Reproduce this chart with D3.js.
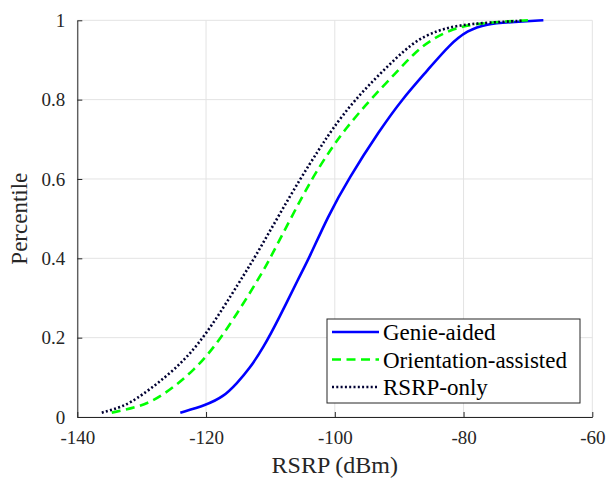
<!DOCTYPE html>
<html><head><meta charset="utf-8">
<script src="https://cdn.jsdelivr.net/npm/d3@7"></script>
<style>body{margin:0;background:#fff;} svg{display:block;} text{font-family:"Liberation Serif","Times New Roman",Times,"DejaVu Serif","Noto Serif",serif;}</style>
</head><body>
<svg id="c" width="609" height="479"></svg>
<script>
const xTicks = [-140, -120, -100, -80, -60];
const yTicks = [0, 0.2, 0.4, 0.6, 0.8, 1];
const yTickLabels = ["0", "0.2", "0.4", "0.6", "0.8", "1"];
const seriesNames = ["Genie-aided", "Orientation-assisted", "RSRP-only"];

const genieX = [-124.0, -120.0, -117.3, -115.2, -113.2, -111.1, -108.8, -105.5, -104.0, -101.1, -97.9, -93.0, -89.6, -85.7, -82.1, -79.4, -76.6, -72.0, -67.6];
const genieY = [0.011, 0.03, 0.051, 0.085, 0.123, 0.175, 0.2445, 0.354, 0.4, 0.505, 0.6, 0.7235, 0.8, 0.872, 0.94, 0.974, 0.991, 0.996, 1.0];

const orientX = [-134.65, -130.25, -126.9, -121.7, -117.5, -111.6, -110.05, -106.7, -103.6, -100.7, -98.5, -94.5, -90.6, -87.8, -85.2, -81.5, -78.5, -74.0, -70.0];
const orientY = [0.011, 0.026, 0.051, 0.1185, 0.2, 0.354, 0.4, 0.505, 0.6, 0.673, 0.7235, 0.8, 0.866, 0.915, 0.95, 0.98, 0.99, 0.997, 1.0];

const rsrpX = [-136.2, -132.85, -130.25, -124.8, -120.2, -114.45, -112.5, -108.8, -105.4, -102.5, -100.5, -96.9, -92.7, -87.8, -84.0, -80.6, -76.4, -70.7];
const rsrpY = [0.011, 0.026, 0.051, 0.1185, 0.2, 0.35, 0.4, 0.505, 0.6, 0.673, 0.7235, 0.8, 0.87, 0.947, 0.975, 0.988, 0.994, 0.999];

const svg = d3.select("#c");
const L = 77.3, R = 592.3, T = 20.3, B = 417;
const x = d3.scaleLinear().domain([-140, -60]).range([L, R]);
const y = d3.scaleLinear().domain([0, 1]).range([B, T]);

// grid
const grid = svg.append("g").attr("stroke", "#e3e3e3").attr("stroke-width", 1);
xTicks.forEach(t => grid.append("line").attr("x1", x(t)).attr("x2", x(t)).attr("y1", T).attr("y2", B));
yTicks.forEach(t => grid.append("line").attr("x1", L).attr("x2", R).attr("y1", y(t)).attr("y2", y(t)));

// axes
const axCol = "#262626";
const xAxis = svg.append("g").attr("transform", `translate(0,${B})`)
  .call(d3.axisBottom(x).tickValues(xTicks).tickSizeInner(-5).tickSizeOuter(0).tickPadding(12).tickFormat(d => String(d)));
const yAxis = svg.append("g").attr("transform", `translate(${L},0)`)
  .call(d3.axisLeft(y).tickValues(yTicks).tickSizeInner(-5).tickSizeOuter(0).tickPadding(12).tickFormat((d, i) => yTickLabels[i]));
[xAxis, yAxis].forEach(a => {
  a.attr("font-family", null);
  a.select(".domain").attr("stroke", axCol).attr("stroke-width", 1);
  a.selectAll(".tick line").attr("stroke", axCol);
  a.selectAll("text").attr("fill", axCol).attr("font-size", 19);
});
xAxis.selectAll("text").attr("dy", "0.8em");

// series
const line = d3.line().x(d => x(d[0])).y(d => y(d[1])).curve(d3.curveBasis);
const styles = [
  {color: "#0000ff", dash: null},
  {color: "#00ff00", dash: "9,5.5"},
  {color: "#000033", dash: "2,2.3"}
];
const data = [
  genieX.map((v, i) => [v, genieY[i]]),
  orientX.map((v, i) => [v, orientY[i]]),
  rsrpX.map((v, i) => [v, rsrpY[i]])
];
data.forEach((d, i) => {
  svg.append("path").datum(d).attr("d", line).attr("fill", "none")
    .attr("stroke", styles[i].color).attr("stroke-width", 2.6)
    .attr("stroke-dasharray", styles[i].dash);
});

// axis labels
svg.append("text").attr("x", (L + R) / 2).attr("y", 473).attr("text-anchor", "middle")
  .attr("font-size", 24).attr("fill", axCol).text("RSRP (dBm)");
svg.append("text").attr("transform", `translate(27,${(T + B) / 2}) rotate(-90)`).attr("text-anchor", "middle")
  .attr("font-size", 23).attr("fill", axCol).text("Percentile");

// legend
const lg = svg.append("g");
lg.append("rect").attr("x", 327).attr("y", 319).attr("width", 253).attr("height", 84)
  .attr("fill", "#fff").attr("stroke", axCol).attr("stroke-width", 1);
seriesNames.forEach((n, i) => {
  const cy = 332 + i * 27.5;
  lg.append("line").attr("x1", 332).attr("x2", 379).attr("y1", cy).attr("y2", cy)
    .attr("stroke", styles[i].color).attr("stroke-width", 2.6).attr("stroke-dasharray", styles[i].dash);
  lg.append("text").attr("x", 383).attr("y", cy).attr("dy", "0.35em")
    .attr("font-size", 23).attr("fill", "#000").text(n);
});
</script>
</body></html>
